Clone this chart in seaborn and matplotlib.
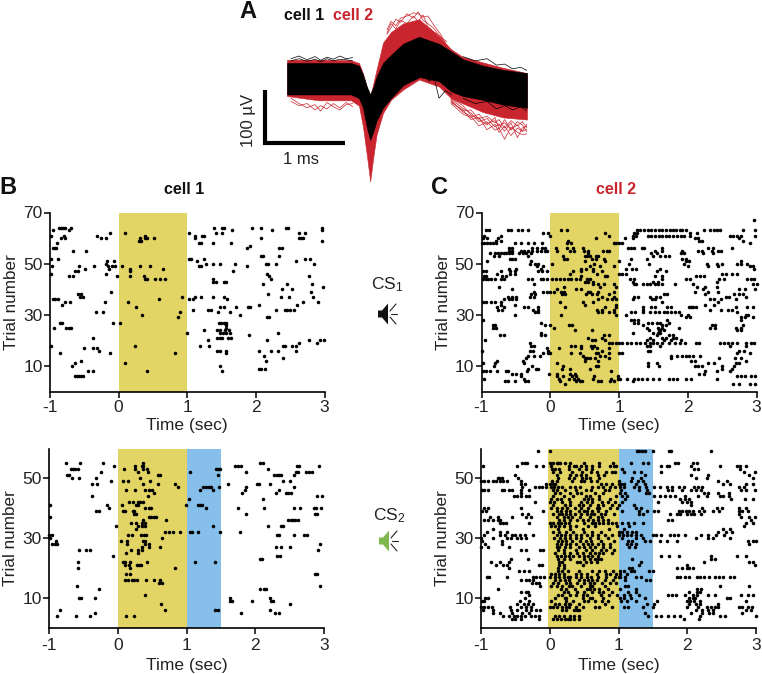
import matplotlib
matplotlib.use("Agg")
import matplotlib.pyplot as plt
from matplotlib.patches import Polygon
import seaborn as sns
import pandas as pd

wave_t = [0, 0.4, 0.8, 0.9, 0.95, 1.0, 1.04, 1.08, 1.12, 1.2, 1.3, 1.45, 1.65, 1.9, 2.05, 2.2, 2.45, 2.7, 3.0]
black_hi = [30, 30, 30, 25, 8, -15, -29, -15, 4, 30, 45, 66, 79, 66, 52, 37, 25, 17, 11]
black_lo = [-29, -29, -29, -36, -54, -92, -114, -98, -78, -54, -36, -12, 4, -4, -23, -32, -39, -48, -54]
red_hi = [36, 36, 35, 30, 10, -17, -32, -8, 18, 68, 88, 104, 112, 80, 56, 41, 31, 21, 11]
red_lo = [-32, -40, -40, -50, -90, -145, -192, -145, -104, -64, -39, -20, -1, -14, -36, -46, -62, -72, -76]

jag_t = [2.05, 2.2, 2.3, 2.4, 2.5, 2.6, 2.65, 2.72, 2.8, 2.88, 2.94, 3.0]
jag_red1 = [-40, -62, -70, -88, -80, -96, -92, -113, -90, -100, -104, -103]
jag_red2 = [-44, -58, -76, -72, -95, -85, -100, -88, -106, -92, -98, -94]
jag_red3 = [-38, -55, -64, -80, -74, -90, -84, -98, -82, -110, -92, -88]
jag_red4 = [-46, -66, -72, -66, -84, -78, -88, -82, -94, -86, -98, -84]
jag_red5 = [-36, -50, -68, -74, -70, -82, -76, -92, -78, -88, -80, -92]
jag_red6 = [-42, -60, -58, -76, -86, -72, -94, -76, -96, -80, -86, -99]
top_t = [1.25, 1.3, 1.36, 1.42, 1.5, 1.58, 1.64, 1.7, 1.76, 1.84, 1.92, 2.0]
jag_top1 = [92, 108, 100, 114, 118, 124, 122, 116, 118, 100, 84, 62]
jag_top2 = [84, 96, 112, 106, 122, 114, 126, 110, 104, 94, 78, 70]
jag_top3 = [86, 104, 94, 110, 104, 118, 108, 120, 98, 88, 80, 58]
base_t = [0.05, 0.15, 0.25, 0.35, 0.42, 0.5, 0.58, 0.66, 0.74, 0.82]
jag_base1 = [-42, -50, -46, -58, -50, -56, -46, -54, -44, -52]
jag_base3 = [-36, -46, -54, -48, -60, -44, -52, -58, -48, -46]
jag_base2 = [38, 43, 36, 42, 35, 41, 37, 43, 38, 40]
jag_base4 = [34, 38, 33, 37, 32, 38, 34, 37, 36, 34]
lowb_t = [1.4, 1.5, 1.6, 1.7, 1.78, 1.84, 1.9, 1.98, 2.06]
jag_low_black = [-16, -6, -2, 6, -4, 2, -36, -22, -30]
tailb_t = [2.2, 2.35, 2.5, 2.62, 2.72, 2.82, 2.92, 3.0]
jag_tail_up = [42, 34, 38, 26, 28, 19, 22, 16]
jag_tail_lo = [-36, -46, -42, -56, -50, -58, -52, -60]

# each row: trial number, spike times (sec)
b1_rows = [
    (64, [-0.87, -0.84, -0.81, -0.78, -0.69, 1.39, 1.50, 1.53, 1.94, 2.07, 2.44, 2.47, 2.96]),
    (63, [-0.95, -0.73, 1.65, 2.23, 2.96]),
    (62, [-0.12, 0.10, 1.02, 1.42, 1.50, 2.63, 2.72]),
    (61, [-0.99, -0.80, -0.32, 1.11, 1.21, 1.24, 0.38]),
    (60, [-0.84, -0.78, -0.25, -0.19, 0.31, 0.39, 0.41, 0.51, 1.11, 2.07, 2.63, 2.66, 2.69]),
    (59, [0.30, 0.32, 2.97]),
    (58, [-0.90, 1.17, 1.20, 1.37, 1.64]),
    (56, [-0.96, -0.93, -0.91, 1.87, 2.34, 2.38]),
    (57, [1.92]),
    (55, [-0.66, -0.47]),
    (53, [2.08, 2.11, 2.33]),
    (52, [-0.98, -0.88, 1.02, 1.05, 1.24, 2.72, 2.79]),
    (51, [-0.17, -0.07, 1.14, 2.58]),
    (50, [-0.19, 1.28, 1.37, 1.48, 1.70, 2.15, 2.18, 2.30, 2.84]),
    (49, [-0.97, -0.58, -0.36, -0.16, -0.09, -0.05, 0.05, 0.31, 0.45, 1.17, 1.20, 1.87]),
    (48, [-0.49, -0.14, 0.17, 0.65]),
    (47, [-0.63, -0.59, 0.17, 1.67]),
    (46, [-0.99, -0.18, 2.16]),
    (45, [-0.73, -0.66, -0.02, 0.16, 0.37, 2.19, 2.77]),
    (44, [0.39, 0.41, 0.53, 0.60, 0.68, 1.38, 2.22]),
    (43, [1.38, 1.42, 1.53, 1.57]),
    (42, [2.11, 2.46, 2.82]),
    (41, [2.98]),
    (40, [2.38, 2.52]),
    (39, [-0.11, 2.81]),
    (38, [-0.59, -0.55, 2.18]),
    (37, [-0.57, -0.52, 0.93, 1.12, 1.20, 1.38, 1.54, 2.36, 2.48, 2.83]),
    (36, [-0.96, -0.93, -0.89, 0.59, 1.02, 1.08, 1.58]),
    (35, [-0.78, -0.71, -0.20, 0.14, 2.68, 2.90]),
    (34, [-0.83, 2.05, 2.60]),
    (33, [0.26, 1.47, 1.54, 1.71, 1.88, 1.91]),
    (32, [1.09, 1.30, 1.34, 2.30, 2.42, 2.45, 2.49, 2.56]),
    (31, [-0.33, -0.23, 0.89, 1.45, 1.62]),
    (30, [0.34, 1.77]),
    (29, [0.87, 2.16, 2.19]),
    (27, [-0.85, -0.82, -0.08, 0.02, 1.46, 1.49, 1.53, 1.56]),
    (26, [1.57]),
    (25, [-0.94, -0.76, -0.73, -0.70, 1.57]),
    (24, [1.25, 1.44, 1.48, 1.55, 1.61]),
    (23, [1.48, 1.52, 1.56, 1.62, 0.99, 2.32]),
    (22, [1.90]),
    (21, [-0.38, 1.44, 1.47, 1.50, 1.60, 1.64]),
    (20, [1.30, 2.16, 2.78, 2.94, 2.99]),
    (19, [2.63, 2.89]),
    (18, [-0.99, 0.24, 1.18, 1.31, 2.40, 2.43, 2.52, 2.58]),
    (17, [-0.37, -0.50, -0.31]),
    (16, [-0.28, 1.43, 1.47, 1.57, 2.04, 2.22, 2.32, 2.58]),
    (15, [-0.85, -0.12, 0.82, 1.56]),
    (14, [2.12]),
    (13, [2.39]),
    (12, [-0.55, 2.15]),
    (11, [0.09, -0.63]),
    (10, [-0.68, 1.48]),
    (9, [2.04, 2.07, 2.13]),
    (8, [-0.44, -0.37, 0.42, 1.50]),
    (6, [-0.64, -0.61, -0.58, -0.55, -0.52]),
]

b2_rows = [
    (55, [-0.75, -0.55, -0.22, 0.36, 2.07, 2.11]),
    (54, [-0.06, 0.35, 0.25, 0.37, 1.71, 1.75, 1.79, 2.92, 2.61, 2.64]),
    (53, [-0.68, -0.65, -0.62, -0.58, 0.09, 0.25, 0.37, 0.42, 1.43, 1.46, 1.49, 2.18]),
    (52, [-0.25, 0.29, 0.44, 1.05, 1.87, 2.59, 2.62, 2.74, 2.78, 2.82]),
    (51, [-0.74, -0.71, 0.59, 0.61, 1.46, 2.27, 2.31, 2.35, 2.38, 2.56]),
    (50, [-0.67, -0.57, -0.31, 0.32]),
    (49, [-0.10, 0.08, 0.15, 0.47, 2.41, 2.51]),
    (48, [-0.38, -0.30, 0.36, 0.59, 0.83, 1.60, 2.03, 2.06, 2.22]),
    (47, [0.88, 1.24, 1.28, 1.32, 1.47, 1.36, 1.87, 2.57]),
    (46, [0.12, 0.25, 0.40, 0.45, 0.50, 1.20, 1.38, 1.85, 2.35]),
    (45, [0.52, 1.80, 2.30, 2.45, 2.48, 2.52]),
    (44, [-0.37, 0.44, 2.90, 2.97]),
    (43, [1.03, 2.11]),
    (42, [0.17, 0.22, 0.29, 0.32, 0.36]),
    (41, [-0.99, -0.16, 0.06, 0.27, 0.30, 0.99, 1.17, 1.20, 1.23]),
    (40, [-0.13, 0.39, 0.46, 0.49, 1.28, 1.75, 2.13, 2.57, 2.65, 2.85, 2.88, 2.95]),
    (39, [-0.31, -0.28, 0.07, 0.10, 0.22, 0.23]),
    (38, [0.23, 0.26, 1.86, 2.87, 2.90]),
    (37, [-0.98, 0.46, 0.49, 0.52, 0.55]),
    (36, [0.37, 0.70, 2.47, 2.52, 2.55, 2.58, 2.62]),
    (35, [0.19, 0.26, 0.35, 0.40]),
    (34, [-0.02, 0.29, 0.35, 0.39, 1.39, 2.18, 2.38, 2.41]),
    (33, [0.27]),
    (32, [0.68, 0.75, 0.80, 0.90, 1.05, 1.08, 1.16, 1.78, 1.48]),
    (31, [-1.0, -0.96, 0.15, 0.20, 0.34, 0.38, 0.41, 2.31, 2.34, 2.57, 2.71, 2.75]),
    (30, [-0.98, 0.64]),
    (29, [0.05, 0.14, 0.37, 0.40, -0.90]),
    (28, [-0.95, -0.91, -0.88, 0.13, 0.39, 0.45, 2.94]),
    (27, [0.35, 0.45, 0.62, 2.30, 2.38, 2.50]),
    (26, [-0.57, -0.46, -0.41, 0.19, 0.29, 0.35, 2.91]),
    (25, [0.12, 0.30]),
    (24, [-0.07, 2.32, 2.36]),
    (23, [2.07, 2.10]),
    (22, [-0.58, 0.08, 0.11, 0.18, 0.42, 1.12, 1.42]),
    (21, [0.10, 0.17, 0.28, 0.31, 0.34]),
    (20, [-0.58, 0.18, 0.83]),
    (18, [0.12, 0.18, 2.87, 2.90]),
    (16, [0.11, 0.15, 0.20, 0.24, 0.28, 0.41, 0.52, 0.61]),
    (15, [0.60, 0.65]),
    (14, [-0.59, 2.94]),
    (13, [-0.28, 2.07, 2.12, 2.15]),
    (11, [0.40]),
    (10, [-0.56, -0.53, -0.33, 1.63, 2.21]),
    (9, [1.63, 1.66, 1.95, 2.23, 2.26]),
    (8, [0.63, 2.51]),
    (6, [-0.84, 0.69, 1.42, 1.46, 2.22]),
    (5, [-0.33, 1.79, 2.29, 2.34]),
    (4, [-0.88, -0.61, -0.40, 0.12, 0.23]),
]

c1_rows = [
    (67, [2.96]),
    (63, [-0.93, -0.89, -0.62, -0.57, -0.47, -0.41, -0.33, 0.15, 0.25, 1.26, 1.30, 1.36, 1.42, 1.47, 1.52, 1.58, 1.63, 1.69, 1.74, 1.78, 1.83, 1.88, 1.92, 1.97, 2.24, 2.33, 2.38, 2.42, 2.47, 2.80, 2.98]),
    (62, [-0.10, -0.04, 0.80, 1.22, 1.26, 2.03, 2.13]),
    (61, [-0.96, -0.72, 0.00, 0.85, 1.20, 1.24, 1.42, 1.46, 1.52, 1.58, 1.62, 1.68, 1.72, 1.78, 1.84, 1.90, 1.94, 2.03, 2.62, 2.66, 2.72, 2.77, 2.98]),
    (60, [-0.98, -0.92, -0.76, 0.67, 1.08, 1.20, 2.10, 2.15, 2.75]),
    (59, [-0.79, -0.72, 0.26, 2.80, 2.16, 2.20]),
    (58, [-1.0, -0.96, -0.92, -0.88, -0.84, -0.79, -0.52, -0.42, -0.33, -0.24, -0.12, 0.24, 0.30, 0.93, 0.96, 1.00, 1.04, 2.90]),
    (56, [-0.60, -0.56, -0.27, -0.20, -0.12, -0.07, 0.08, 0.25, 0.33, 0.48, 1.13, 1.17, 1.22, 1.33, 1.37, 1.62, 2.30, 2.36, 2.65]),
    (55, [-0.60, -0.56, -0.42, -0.38, -0.32, -0.27, -0.20, -0.14, -0.08, -0.05, 0.10, 0.29, 0.34, 0.49, 0.55, 0.77, 0.82, 0.85, 1.53, 1.62, 1.92, 2.15, 2.20, 2.35, 2.44, 2.48]),
    (54, [-0.87, -0.80, -0.76, -0.72, -0.68, -0.64, -0.60, -0.55, -0.45, -0.40, -0.35, -0.28, 0.55, 1.47, 1.55, 1.90, 1.95, 2.22, 2.36]),
    (53, [-0.82, -0.74, -0.32, 0.18, 0.50, 0.53, 0.58, 0.67, 0.70, 1.50, 1.60, 1.67, 1.73]),
    (52, [-0.58, -0.55, -0.52, 0.20, 0.25, 0.60, 0.66, 0.78, 1.18, 1.40, 1.92, 1.97]),
    (51, [-0.92, -0.28, 0.50, 0.80, 1.0, 1.97, 2.02, 2.78]),
    (50, [-0.30, -0.22, -0.18, 0.03, 0.64, 1.14, 1.44, 1.95, 2.28, 2.42, 2.50, 2.72, 2.78, 2.86]),
    (49, [-0.20, -0.10, 0.58, 0.72, 0.92, 2.00, 2.30, 2.44, 2.90, 2.95]),
    (48, [-0.60, -0.50, -0.14, 0.45, 0.52, 0.62, 1.10, 1.19, 1.24, 1.60, 2.96]),
    (47, [-0.98, -0.94, -0.72, -0.58, -0.52, -0.18, -0.12, -0.05, 0.33, 0.45, 0.62, 0.75, 1.68, 1.55]),
    (46, [-0.78, -0.58, -0.52, 0.28, 0.68, 1.00, 1.04, 1.10, 2.50, 2.56, 2.65, 2.72]),
    (45, [-0.97, -0.93, -0.70, -0.65, 0.44, 0.80, 0.83, 1.53, 1.62, 2.12, 2.18, 2.23]),
    (44, [-0.98, -0.94, -0.90, -0.86, -0.80, -0.72, -0.68, -0.32, -0.26, -0.14, -0.10, -0.05, 0.02, 0.08, 0.14, 0.20, 0.26, 0.30, 0.38, 0.43, 0.53, 0.58, 1.16, 1.22, 1.63, 1.98, 2.03, 2.45, 2.52, 2.86, 2.92, 2.97]),
    (43, [0.50, 0.55, 0.62, 1.20, 1.50, 1.56, 2.43]),
    (42, [-0.23, 0.62, 0.70, 0.78, 0.93, 1.22, 1.24, 1.35, 1.40, 1.45, 1.52, 1.57, 1.62, 1.82, 2.08, 2.95, 3.0]),
    (41, [-0.74, 0.20, 0.72, 0.95, 2.14, 2.25, 2.42]),
    (40, [-0.56, 0.10, 0.37, 0.44, 2.22, 2.75, 2.83, 2.98]),
    (39, [-0.24, -0.10, -0.05, -0.01, 0.05, 0.15, 0.20, 0.55, 0.58, 0.70, 0.92, 2.10, 2.30, 2.44]),
    (38, [-0.28, -0.22, 0.17, 0.22, 0.52, 0.60, 0.68, 0.85, 1.65, 1.70, 2.25, 2.67, 2.75, 2.80]),
    (37, [-0.30, -0.24, -0.62, -0.55, -0.50, 0.75, 0.92, 1.22, 1.27, 1.45, 1.54, 1.60, 2.55, 2.60, 2.85]),
    (36, [-0.67, -0.60, -0.55, -0.50, 0.70, 0.82, 0.90, 0.95, 1.20, 1.48, 1.52, 2.32, 2.38, 2.48, 2.70]),
    (35, [-0.98, -0.94, -0.86, -0.80, -0.72, 0.14, 0.48, 0.62, 1.62, 2.44]),
    (34, [-0.72, -0.52, 0.50, 0.96, 2.25, 2.38]),
    (33, [-0.78, -0.68, -0.38, -0.32, -0.18, 0.22, 0.80, 0.95, 1.35, 1.47, 1.52, 1.70, 1.75, 2.02, 2.05, 2.08, 2.12, 2.70, 2.86, 2.95]),
    (32, [-0.76, -0.70, -0.25, -0.18, 0.68, 0.75, 0.92, 1.35, 2.33, 2.48, 2.58, 2.65]),
    (31, [-0.22, -0.18, 0.70, 0.75, 0.85, 0.92, 1.18, 1.23, 1.35, 1.45, 1.52, 1.58, 1.65, 1.70, 1.75, 1.82, 1.87, 2.72]),
    (30, [-0.51, 0.15, 0.95, 1.10, 2.85, 2.88, 1.90, 2.0]),
    (29, [1.98, 2.03, 2.95, 2.78, 2.83]),
    (28, [-0.98, 1.18, 1.22, 1.28, 1.70, 2.78]),
    (27, [-0.13, 1.22, 1.28, 1.42, 1.48, 1.55, 1.60, 1.72]),
    (26, [-0.84, -0.80, -0.08, -0.01, 0.27, 0.32, 1.35, 1.62, 1.68, 2.35, 2.40, 2.80]),
    (25, [-0.83, -0.79, 0.05, 1.40, 1.62, 1.57, 1.87, 2.32, 2.40, 2.70, 2.78]),
    (24, [0.36, 0.60, 1.43, 1.58, 1.60, 1.65, 2.78, 2.72]),
    (23, [-0.14, 1.21, 1.50, 1.56, 1.60]),
    (22, [-0.73, -0.68, -0.13, -0.07, 0.78, 0.85, 1.55, 1.72, 1.78]),
    (21, [0.55, 0.75, 1.45, 1.62, 1.68, 1.78, 1.83]),
    (20, [-0.95, 0.80, 0.60, 0.65, 1.40, 1.50, 1.65, 1.75, 1.90]),
    (19, [-0.30, 0.85, 0.90, 0.95, 1.00, 1.05, 1.12, 1.18, 1.24, 1.30, 1.38, 1.45, 1.50, 1.55, 1.63, 1.72, 1.82, 1.88, 1.96, 2.12, 2.16, 2.47, 2.53, 2.58, 2.64, 2.72, 2.85, 2.92, 2.97]),
    (18, [-0.28, -0.24, 0.30, 0.36, 0.45, 0.59, 0.64, 1.40, 1.45, 1.60, 2.62, 2.85]),
    (17, [-0.05, 0.12, 0.44, 0.60, 0.68, 0.85]),
    (16, [-0.99, -0.30, -0.25, -0.04, 0.75, 1.42, 1.45, 2.82, 2.75]),
    (15, [-0.10, -0.04, 0.0, 0.30, 0.43, 0.66, 0.70, 0.85, 1.00, 1.05, 2.71, 2.90]),
    (14, [-0.32, -0.23, -0.15, 0.47, 0.72, 0.80, 1.75, 1.85, 1.92, 1.97, 2.02, 2.08, 2.18]),
    (13, [-0.36, 0.50, 0.54, 0.58, 0.65, 0.85, 1.75, 2.45, 2.68, 2.78]),
    (12, [-0.77, -0.40, 0.50, 0.70, 2.05, 2.10, 2.85]),
    (11, [-0.98, -0.80, -0.38, 0.10, 1.42, 1.55, 2.30, 2.38, 2.75, 2.70]),
    (10, [-0.82, -0.27, 0.18, 0.66, 0.70, 1.42, 1.58, 2.10, 2.15, 2.20, 2.50, 2.67]),
    (9, [-0.32, -0.21, -0.18, 0.17, 0.28, 0.58, 2.50, 2.65]),
    (8, [-0.98, -0.94, -0.88, -0.78, -0.65, -0.62, -0.34, 0.88, 2.25, 2.42, 2.62]),
    (7, [-0.56, -0.50, -0.42, -0.02, 0.10, 0.28, 0.36, 2.17, 2.24]),
    (6, [-0.43, 0.10, 0.18, 0.31, 0.38, 0.63, 0.98, 2.72, 2.78, 2.83, 2.92, 2.98]),
    (5, [-0.96, -0.38, 0.12, 0.27, 0.34, 0.40, 0.62, 0.88, 0.98, 1.02, 1.12, 1.22, 1.28, 1.34, 1.40, 1.50, 1.58, 1.72, 1.78, 1.85, 1.98, 2.05, 2.42]),
    (4, [-0.66, -0.62, -0.52, -0.37, -0.32, 0.14, 0.37, 0.43, 0.46, 0.69, 0.74, 0.87, 0.92, 1.20]),
    (3, [0.22, 2.66, 2.74, 2.90, 2.98]),
]

c2_rows = [
    (59, [-0.17, 0.0, 1.27, 1.30, 1.34, 1.38, 1.50, 1.73, 1.77, 2.35]),
    (55, [-0.40, -0.36, -0.33, 0.0, 0.05, 0.10, 0.12, 0.15, 0.22, 0.30, 0.50, 0.72, 0.92, 1.18, 1.35, 1.43, 1.82, 1.86, 2.08, 2.14]),
    (54, [-0.97, -0.48, -0.20, -0.10, 0.02, 0.28, 0.35, 0.38, 0.45, 0.52, 0.62, 0.72, 0.88, 0.93, 0.96, 1.62, 1.70, 1.74, 2.05, 2.47, 2.72, 2.76, 2.86]),
    (53, [0.03, 0.08, 0.14, 0.28, 0.42, 0.52, 0.62, 1.05, 2.10, 2.16, 2.76]),
    (52, [0.05, 0.15, 0.33, 0.47, 0.60, 0.68, 0.82, 0.90, 0.95, 1.08, 1.22, 1.32, 1.62, 2.83, 2.98]),
    (51, [-0.50, 0.10, 0.30, 0.38, 0.45, 0.52, 0.70, 0.79, 1.38, 2.05, 2.30, 2.90]),
    (50, [-0.76, -0.74, -0.70, -0.46, 0.12, 0.28, 0.35, 0.47, 0.52, 0.58, 0.72, 1.20, 1.32, 2.12, 2.28, 2.95]),
    (49, [-1.0, -0.95, -0.90, -0.82, -0.78, -0.73, -0.68, -0.62, -0.42, 0.03, 0.10, 0.33, 0.45, 0.50, 0.60, 0.68, 1.0, 1.18, 1.28, 1.35, 2.45, 2.58]),
    (48, [-0.42, -0.36, -0.06, 0.0, 0.04, 0.08, 0.75, 0.82, 0.90, 1.0, 1.04, 1.08, 1.25, 1.38, 2.52, 2.62, 2.86, 2.96]),
    (47, [-0.40, -0.22, -0.16, -0.12, -0.06, 0.02, 0.06, 0.12, 0.18, 0.30, 0.37, 0.44, 0.62, 0.70, 0.78, 0.87, 0.95, 1.02, 1.08, 1.22, 1.30, 1.40, 1.52, 1.60, 1.70, 1.78, 1.88, 1.95, 2.10, 2.15, 2.22, 2.75, 2.82]),
    (46, [-0.98, -0.95, -0.90, -0.70, -0.66, -0.60, -0.55, -0.42, -0.30, 0.05, 0.10, 0.22, 0.38, 0.52, 0.60, 0.80, 0.86, 1.03, 1.30, 1.42, 1.72, 1.78, 1.92, 2.06, 2.12, 2.20, 2.78, 2.86, 2.98]),
    (45, [-0.42, 0.08, 0.15, 0.30, 0.40, 0.46, 0.66, 0.78, 1.02, 1.10, 1.40, 1.45, 2.25, 2.30, 2.45, 2.60]),
    (44, [-0.52, -0.48, -0.42, -0.35, -0.30, 0.05, 0.20, 0.34, 0.52, 0.58, 0.72, 0.96, 1.05, 1.12, 1.52, 1.60, 1.68, 1.75, 1.82, 1.96, 2.15, 2.28, 2.48, 2.52, 2.60]),
    (43, [0.02, 0.10, 0.17, 0.28, 0.50, 0.55, 0.62, 0.72, 0.88, 1.10, 1.90, 1.97, 2.02, 2.64, 2.84, 2.95]),
    (42, [-0.22, 0.0, 0.06, 0.18, 0.30, 0.45, 0.54, 0.62, 0.76, 0.85, 0.95, 1.05, 1.58, 1.92, 2.00, 2.05]),
    (41, [0.05, 0.22, 0.30, 0.42, 0.48, 0.58, 0.70, 0.78, 0.90, 1.0, 1.22, 2.05]),
    (40, [-0.95, -0.90, -0.42, 0.02, 0.10, 0.18, 0.25, 0.36, 0.46, 0.56, 0.68, 0.72, 0.88, 0.98, 1.25, 1.32, 2.22, 2.43, 2.50, 2.75, 2.85]),
    (39, [-0.98, -0.93, -0.10, 0.10, 0.16, 0.24, 0.30, 0.42, 0.50, 0.54, 0.62, 0.70, 0.82, 1.05, 1.30, 1.42, 1.52, 1.57, 1.88, 1.93, 1.98, 2.03, 2.08, 2.17, 2.25, 2.38, 2.46, 2.75, 2.80, 2.88]),
    (38, [-0.40, -0.32, 0.05, 0.14, 0.18, 0.24, 0.30, 0.37, 0.46, 0.54, 0.60, 0.65, 0.74, 0.80, 0.93, 1.30, 1.35, 1.75, 1.85, 1.90, 2.0, 2.05, 2.10, 2.20, 2.75]),
    (37, [-0.87, -0.75, -0.55, -0.35, -0.28, 0.10, 0.20, 0.26, 0.32, 0.44, 0.58, 0.70, 0.76, 2.78, 2.90, 2.98]),
    (36, [-0.95, -0.90, -0.82, -0.76, -0.72, 0.14, 0.20, 0.30, 0.40, 0.48, 0.56, 0.63, 0.70, 0.78, 0.85, 1.72, 1.78, 2.92]),
    (35, [-0.73, -0.68, -0.64, -0.30, 0.0, 0.05, 0.12, 0.17, 0.22, 0.28, 0.50, 0.62, 0.66, 0.72, 0.78, 0.84, 0.90, 0.96, 1.05, 1.14, 1.22, 1.36, 2.85, 2.95]),
    (34, [0.02, 0.07, 0.14, 0.20, 0.30, 0.38, 0.56, 0.66, 0.98, 1.15, 2.83]),
    (33, [-0.82, 0.12, 0.30, 0.48, 0.86, 1.08, 2.52, 2.62]),
    (32, [-0.92, -0.72, -0.62, 0.05, 0.14, 0.24, 0.34, 0.50, 0.62, 0.74, 1.0, 1.05, 1.12, 1.20, 1.25, 2.45, 2.56, 2.65]),
    (31, [-0.96, -0.72, -0.65, -0.55, -0.50, -0.44, -0.36, -0.24, 0.10, 0.16, 0.22, 0.30, 0.38, 0.46, 0.54, 0.62, 0.70, 0.80, 0.90, 1.0, 1.06, 1.12, 1.18, 1.25, 1.32, 1.50, 1.55, 1.62, 1.75, 1.80, 1.87, 1.97, 2.20, 2.30, 2.42, 2.53]),
    (30, [-1.0, -0.82, -0.62, -0.56, -0.48, -0.42, -0.34, 0.06, 0.15, 0.22, 0.30, 0.38, 0.46, 0.58, 0.70, 0.84, 1.05, 1.25, 1.35, 2.12, 2.30, 2.38, 2.62]),
    (29, [-0.98, -0.70, 0.12, 0.18, 0.24, 0.32, 0.44, 0.52, 0.60, 0.74, 0.94, 1.14, 1.20, 1.38, 1.46, 1.60, 1.70, 1.85, 2.88, 2.95, 3.0]),
    (28, [-0.94, -0.70, 0.10, 0.16, 0.24, 0.30, 0.38, 0.48, 0.55, 0.62, 0.70, 0.78, 0.88, 1.12, 1.18, 1.25, 2.90]),
    (27, [-1.0, -0.90, -0.60, 0.10, 0.14, 0.22, 0.30, 0.42, 0.50, 0.58, 0.66, 0.78, 0.88, 1.15, 1.24]),
    (26, [-0.42, -0.35, -0.14, -0.10, 0.12, 0.20, 0.38, 0.52, 0.62, 0.74, 0.82, 0.93]),
    (25, [0.08, 0.20, 0.30, 0.40, 0.48, 0.58, 0.66, 0.72, 0.78, 0.90]),
    (24, [0.10, 0.16, 0.22, 0.28, 0.34, 0.42, 0.50, 0.56, 0.62, 0.70, 1.62, 1.73, 1.88, 2.35, 2.72, 2.85]),
    (23, [-0.57, -0.32, 0.12, 0.20, 0.30, 0.50, 0.58, 0.66, 0.70, 0.75, 1.20, 2.35, 2.40]),
    (22, [-0.85, -0.72, -0.60, 0.14, 0.18, 0.40, 0.44, 0.52, 0.60, 0.68, 1.32, 2.25, 2.90, 2.95]),
    (21, [-0.78, -0.68, -0.62, -0.16, -0.12, 0.14, 0.20, 0.48, 1.30, 2.0, 2.98]),
    (20, [-0.60, 0.12, 0.20, 1.15, 1.20, 1.85, 1.92, 2.0, 2.02, 2.08]),
    (19, [-0.45, -0.38, -0.30, 0.12, 0.18, 0.26, 0.42, 0.62, 0.72, 0.80, 0.92, 1.02, 1.08, 1.18, 1.22, 1.44, 1.50]),
    (18, [0.02, 0.08, 0.14, 0.20, 0.38, 0.46, 0.54, 0.68, 0.82, 0.88, 0.96, 1.02, 1.12]),
    (17, [-0.92, -0.88, -0.62, -0.24, -0.20, -0.14, -0.08, 0.0, 0.08, 0.14, 0.20, 0.26, 0.30, 0.38, 0.46, 0.54, 0.60, 0.70, 0.82, 0.95, 1.0, 1.02, 1.1, 1.25, 1.32, 1.85, 1.90, 1.96, 2.02, 2.14, 2.18, 2.24, 2.32, 2.40, 2.46, 2.52, 2.62, 2.68]),
    (16, [-0.42, -0.34, -0.30, -0.25, 0.08, 0.15, 0.22, 0.28, 0.42, 0.50, 0.55, 0.62, 0.68, 0.80, 0.92, 1.10, 1.40, 1.46]),
    (15, [-0.26, -0.20, -0.16, 0.04, 0.12, 0.24, 0.30, 0.40, 0.50, 0.58, 0.64, 0.76, 0.88, 0.96]),
    (14, [-0.14, 0.02, 0.10, 0.18, 0.28, 0.32, 0.46, 0.58, 0.62, 0.80, 1.10, 1.14, 2.48, 2.90]),
    (13, [-0.76, 0.16, 0.24, 0.36, 0.54, 0.58, 0.64, 0.72, 0.84, 1.02, 1.25, 2.20, 2.14]),
    (12, [-0.42, -0.35, -0.32, 0.20, 0.26, 0.40, 0.50, 0.62, 0.72, 0.78, 0.90, 1.14, 1.25, 2.02, 2.14, 2.18]),
    (11, [-0.30, 0.12, 0.18, 0.30, 0.38, 0.48, 0.54, 0.74, 0.86, 0.98, 1.08, 1.16, 1.30, 1.72, 1.78, 1.84, 1.97, 2.08, 2.14, 2.30, 2.40, 2.78, 2.88, 2.96]),
    (10, [-0.94, -0.90, -0.36, 0.08, 0.22, 0.24, 0.48, 0.58, 0.62, 0.78, 1.02, 1.08, 1.18, 1.38, 2.02, 2.08, 2.11, 2.58, 2.62]),
    (9, [-0.98, -0.96, -0.44, -0.30, 0.02, 0.24, 0.34, 0.50, 0.56, 0.66, 0.76, 0.84, 1.04, 1.12, 1.25, 1.56, 2.0, 2.04, 2.10, 2.18, 2.85]),
    (8, [-0.48, -0.38, -0.32, -0.24, 0.08, 0.14, 0.22, 0.28, 0.30, 0.42, 0.80, 1.42, 1.52, 2.02, 2.12, 2.18, 2.45]),
    (7, [-1.0, -0.95, -0.90, -0.84, -0.58, -0.42, -0.35, -0.28, 0.0, 0.05, 0.10, 0.18, 0.24, 0.28, 0.38, 0.48, 0.66, 0.72, 0.90, 1.08, 1.14, 1.35, 1.50, 2.0, 2.16, 2.28, 2.35, 2.40, 2.45, 2.75, 2.80, 2.88, 2.94]),
    (6, [-0.97, -0.82, -0.56, -0.48, -0.35, -0.28, -0.20, -0.14, 0.18, 0.24, 0.35, 0.42, 0.40, 2.12, 2.22, 2.30, 2.38, 2.85, 2.92]),
    (5, [-0.82, -0.72, -0.55, -0.40, -0.30, 1.38, 2.05, 2.22, 2.32, 2.38, 2.80]),
    (4, [-0.68, -0.60, -0.52, -0.47, -0.42, -0.36, -0.28, -0.22, -0.16, 0.08, 0.14, 0.20, 0.30, 0.35, 0.42, 1.43, 1.55, 1.62, 1.72, 1.80, 1.90, 2.18, 2.48, 2.55, 3.0]),
    (3, [-0.55, -0.50, -0.42, -0.16, 0.05, 0.10, 0.16, 0.22, 0.26, 0.30, 0.35, 0.42, 1.95, 2.17]),
]

time_ticks = [-1, 0, 1, 2, 3]
top_ticks = [10, 30, 50, 70]
bot_ticks = [10, 30, 50]
YELLOW = "#E2D566"
BLUE = "#85BFEA"
RED = "#C9252F"
GREEN = "#7FB84E"

sns.set_theme(style="ticks")
plt.rcParams["font.family"] = ["Liberation Sans", "DejaVu Sans"]
plt.rcParams["mathtext.default"] = "regular"

W, H = 762, 674
fig = plt.figure(figsize=(W / 100, H / 100), dpi=100, facecolor="white")


def px_axes(l, t, r, b):
    return fig.add_axes([l / W, 1 - b / H, (r - l) / W, (b - t) / H])


def raster(rect, rows, ymax, yticks, blue, yellow_start=0, xpad=2, xlab=2, ylab=3):
    ax = px_axes(*rect)
    df = pd.DataFrame(
        [(t, n) for n, ts in rows for t in ts], columns=["time", "trial"]
    )
    ax.axvspan(yellow_start, 1, color=YELLOW, lw=0, zorder=0)
    if blue:
        ax.axvspan(1, 1.5, color=BLUE, lw=0, zorder=0)
    sns.scatterplot(data=df, x="time", y="trial", color="black", s=6.5,
                    linewidth=0, ax=ax, zorder=3, clip_on=False)
    ax.set_xlim(-1, 3)
    ax.set_ylim(0, ymax)
    ax.set_xticks(time_ticks)
    ax.set_yticks(yticks)
    ax.set_xticklabels([str(v) for v in time_ticks])
    ax.tick_params(labelsize=12.5, length=4.3, width=1.1, color="black",
                   labelcolor="#222222")
    ax.tick_params(axis="x", pad=xpad)
    ax.tick_params(axis="y", pad=1)
    for s in ("top", "right"):
        ax.spines[s].set_visible(False)
    for s in ("left", "bottom"):
        ax.spines[s].set_linewidth(1.2)
        ax.spines[s].set_color("black")
    ax.set_xlabel("Time (sec)", fontsize=12.5, labelpad=xlab, color="#222222")
    ax.set_ylabel("Trial number", fontsize=12.3, labelpad=ylab, color="#222222")
    ax.patch.set_alpha(0)
    return ax


raster((50, 212.5, 324.5, 391.6), b1_rows, 70, top_ticks, False)
raster((49, 449, 324, 627.7), b2_rows, 59.6, bot_ticks, True, xpad=3, xlab=4)
raster((481.5, 212.5, 756.5, 391.6), c1_rows, 70, top_ticks, False)
raster((481, 449, 756, 627.7), c2_rows, 59.6, bot_ticks, True, yellow_start=-0.03, xpad=3, xlab=4)

# waveform panel: axes spanning 3 ms over 240 px and 100 uV over 53.3 px
wax = px_axes(262, 0, 527, 190)
wax.set_xlim(-0.3125, 3.0)
wax.set_ylim(-208, 148)
wax.axis("off")
wax.patch.set_alpha(0)
wax.fill_between(wave_t, red_lo, red_hi, color=RED, lw=0.4, zorder=1)
for tx, ys in [(jag_t, jag_red1), (jag_t, jag_red2), (jag_t, jag_red3),
               (jag_t, jag_red4), (jag_t, jag_red5), (jag_t, jag_red6),
               (top_t, jag_top1), (top_t, jag_top2), (top_t, jag_top3),
               (base_t, jag_base1), (base_t, jag_base3)]:
    sns.lineplot(x=tx, y=ys, color=RED, lw=0.5, ax=wax, errorbar=None, zorder=1)
wax.fill_between(wave_t, black_lo, black_hi, color="black", lw=0.4, zorder=2)
for tx, ys in [(base_t, jag_base2), (base_t, jag_base4), (lowb_t, jag_low_black),
               (tailb_t, jag_tail_up), (tailb_t, jag_tail_lo)]:
    sns.lineplot(x=tx, y=ys, color="black", lw=0.5, ax=wax, errorbar=None, zorder=2)
wax.plot([-0.27, -0.27, 0.73], [-20, -120, -120], color="black", lw=3,
         solid_joinstyle="miter", solid_capstyle="butt", zorder=3)

# overlay in pixel coordinates for labels and speaker icons
ov = fig.add_axes([0, 0, 1, 1], zorder=10)
ov.set_xlim(0, W)
ov.set_ylim(H, 0)
ov.axis("off")
ov.patch.set_alpha(0)

ov.text(248, 12, "A", fontsize=17, fontweight="bold", ha="center", va="center", color="#111111")
ov.text(8, 187, "B", fontsize=17, fontweight="bold", ha="center", va="center", color="#111111")
ov.text(440, 187, "C", fontsize=17, fontweight="bold", ha="center", va="center", color="#111111")
ov.text(304.5, 16, "cell 1", fontsize=11.5, fontweight="bold", ha="center", va="center", color="#111111")
ov.text(353, 16, "cell 2", fontsize=11.5, fontweight="bold", ha="center", va="center", color=RED)
ov.text(184, 190, "cell 1", fontsize=11.5, fontweight="bold", ha="center", va="center", color="#111111")
ov.text(616, 189, "cell 2", fontsize=11.5, fontweight="bold", ha="center", va="center", color=RED)
ov.text(301, 160, "1 ms", fontsize=12, ha="center", va="center", color="#222222")
ov.text(248, 120, "100 µV", fontsize=12, rotation=90, ha="center", va="center", color="#222222")
ov.text(387, 285, "CS$_{1}$", fontsize=12.5, ha="center", va="center", color="#222222")
ov.text(389, 516, "CS$_{2}$", fontsize=12.5, ha="center", va="center", color="#222222")


def speaker(cx, cy, color):
    ov.add_patch(Polygon(
        [(cx - 6, cy - 3.5), (cx - 2, cy - 3.5), (cx + 4, cy - 10.5),
         (cx + 4, cy + 10.5), (cx - 2, cy + 3.5), (cx - 6, cy + 3.5)],
        closed=True, color=color, lw=0))
    for dx0, dy0, dx1, dy1 in [(6, -3, 12, -10), (7, 0, 13, 0), (6, 3, 12, 10)]:
        ov.plot([cx + dx0, cx + dx1], [cy + dy0, cy + dy1], color="#222222", lw=0.8)


speaker(384, 314, "#111111")
speaker(385, 541, GREEN)

fig.savefig("out.png", dpi=100)
